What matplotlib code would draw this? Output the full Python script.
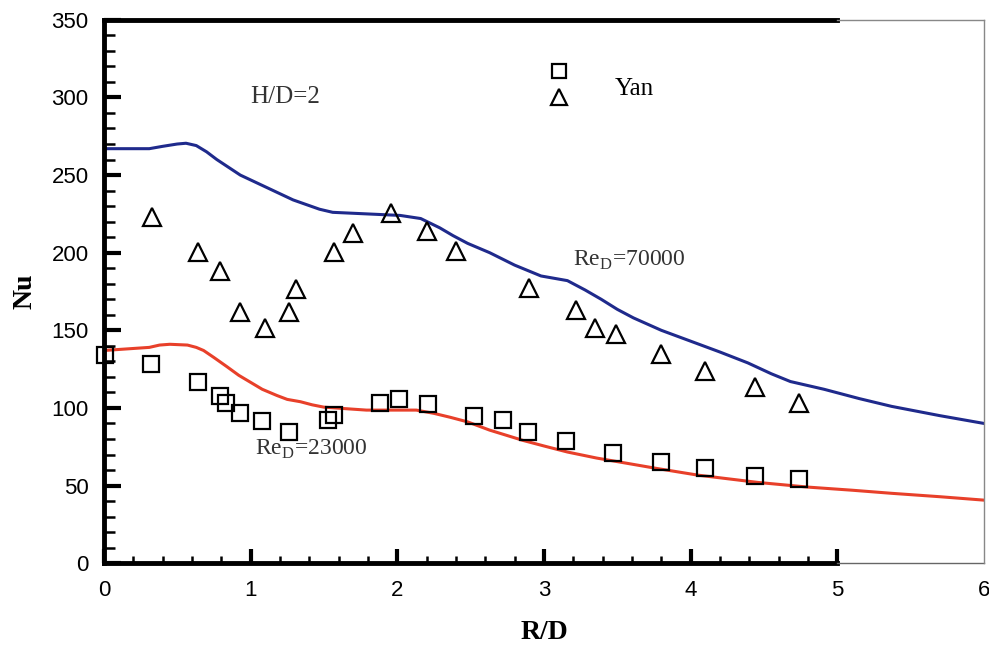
import numpy as np
import matplotlib.pyplot as plt
from matplotlib.legend_handler import HandlerBase
from matplotlib.lines import Line2D

# simulated curves
rd_70000 = [0.0, 0.31, 0.40, 0.50, 0.56, 0.63, 0.70, 0.77, 0.85, 0.93, 1.02, 1.11, 1.20, 1.29,
            1.38, 1.47, 1.56, 1.79, 2.02, 2.16, 2.29, 2.38, 2.48, 2.63, 2.80, 2.98, 3.16,
            3.28, 3.39, 3.50, 3.61, 3.80, 4.00, 4.20, 4.39, 4.55, 4.68, 4.91, 5.15, 5.37,
            5.70, 6.0]
nu_70000 = [267, 267, 268.5, 270, 270.5, 269, 265, 260, 255, 250, 246, 242, 238, 234,
            231, 228, 226, 225, 224, 222, 216, 211, 206, 200, 192, 185, 182,
            176, 170, 163.5, 158, 150, 143, 136, 129, 122, 117, 112, 106, 101,
            95, 90]

rd_23000 = [0.0, 0.31, 0.38, 0.45, 0.57, 0.63, 0.68, 0.75, 0.84, 0.92, 1.00, 1.08, 1.18,
            1.25, 1.34, 1.42, 1.50, 1.79, 2.13, 2.25, 2.36, 2.48, 2.63, 2.86, 3.00, 3.16,
            3.36, 3.77, 4.05, 4.46, 4.80, 5.10, 5.37, 5.70, 6.0]
nu_23000 = [137, 139, 140.5, 141, 140.5, 139, 137, 132.5, 126.5, 121, 116.5, 112, 108,
            105.5, 104, 102, 100.5, 98.6, 98.6, 96.5, 94, 91, 85.7, 79, 75.5, 71.6,
            67.7, 61, 56.7, 52, 49, 47, 45, 42.8, 40.6]

# Yan experiments
yan_rd_tri = [0.33, 0.64, 0.79, 0.93, 1.10, 1.26, 1.31, 1.57, 1.70, 1.96, 2.20, 2.40,
              2.90, 3.22, 3.35, 3.49, 3.80, 4.10, 4.44, 4.74]
yan_nu_tri = [223, 200.5, 188, 162, 151.5, 162, 176.5, 200.5, 212.5, 225.5, 214, 201,
              177, 163, 151.5, 147.5, 135, 124, 113.5, 103]

yan_rd_sq = [0.01, 0.32, 0.64, 0.79, 0.83, 0.93, 1.08, 1.26, 1.53, 1.57, 1.88, 2.01, 2.21,
             2.52, 2.72, 2.89, 3.15, 3.47, 3.80, 4.10, 4.44, 4.74]
yan_nu_sq = [134, 128, 116.5, 107.6, 103, 96.5, 91.6, 84.5, 92, 95.4, 103, 105.7, 102.5,
             95, 92, 84.5, 78.6, 70.7, 65, 61, 56, 54]

serif = ['Liberation Serif', 'DejaVu Serif']
plt.rcParams['font.family'] = ['Liberation Sans', 'DejaVu Sans']


class StackedHandler(HandlerBase):
    # square above triangle, one label centred between them
    def create_artists(self, legend, orig_handle, xd, yd, width, height, fontsize, trans):
        cx = xd + width / 2
        sq = Line2D([cx], [yd + height * 0.5], marker='s', ls='none', ms=10,
                    mfc='none', mec='k', mew=1.6, transform=trans)
        tr = Line2D([cx], [yd - height * 0.3], marker='^', ls='none', ms=12,
                    mfc='none', mec='k', mew=1.6, transform=trans)
        return [sq, tr]


fig = plt.figure(figsize=(9.89, 6.61), dpi=100)
ax = fig.add_axes([0.105, 0.148, 0.89, 0.822])

ax.plot(rd_70000, nu_70000, color='#1f2a8c', lw=2.2)
ax.plot(rd_23000, nu_23000, color='#e8402a', lw=2.2)
ax.plot(yan_rd_tri, yan_nu_tri, ls='none', marker='^', ms=13, mfc='none', mec='k', mew=1.6)
ax.plot(yan_rd_sq, yan_nu_sq, ls='none', marker='s', ms=11, mfc='none', mec='k', mew=1.6,
        clip_on=False)

ax.set_xlim(0, 6)
ax.set_ylim(0, 350)

# spines: heavy left/bottom/top up to 5, thin grey beyond
for s in ['top', 'right', 'bottom']:
    ax.spines[s].set_visible(False)
ax.spines['left'].set_linewidth(3.5)
ax.axhline(0, xmin=0, xmax=5 / 6, color='k', lw=3.5, clip_on=False)
ax.axhline(0, xmin=5 / 6, xmax=1, color='#666666', lw=1, clip_on=False)
ax.axhline(350, xmin=0, xmax=5 / 6, color='k', lw=3.5, clip_on=False)
ax.axhline(350, xmin=5 / 6, xmax=1, color='#888888', lw=1, clip_on=False)
ax.axvline(6, color='#888888', lw=1, clip_on=False)

ax.set_xticks(np.arange(0, 7, 1))
ax.set_xticks(np.arange(0.2, 5, 0.2), minor=True)
ax.set_yticks(np.arange(0, 351, 50))
ax.set_yticks(np.arange(10, 350, 10), minor=True)
ax.tick_params(axis='y', which='major', direction='in', length=12, width=3, pad=11,
               labelsize=16)
ax.tick_params(axis='y', which='minor', direction='in', length=8, width=1.8)
ax.tick_params(axis='x', which='major', direction='in', length=10, width=3, pad=12,
               labelsize=16)
ax.tick_params(axis='x', which='minor', direction='in', length=5, width=1.8)
ax.xaxis.get_major_ticks()[-1].tick1line.set_visible(False)

ax.set_xlabel('R/D', family=serif, fontsize=20, fontweight='bold', labelpad=14)
ax.set_ylabel('Nu', family=serif, fontsize=20, fontweight='bold', labelpad=10)

ax.text(1.0, 300, 'H/D=2', family=serif, fontsize=18, va='center', color='#333333')
ax.text(3.2, 195, r'Re$_\mathregular{D}$=70000', family=serif, fontsize=17, va='center',
        color='#333333')
ax.text(1.03, 73, r'Re$_\mathregular{D}$=23000', family=serif, fontsize=17, va='center',
        color='#333333')

leg = ax.legend([object()], ['Yan'], handler_map={object: StackedHandler()},
                loc='upper left', bbox_to_anchor=(0.475, 0.947), frameon=False,
                prop={'family': serif, 'size': 18}, handlelength=1.2, handleheight=1.6,
                handletextpad=1.6)

fig.savefig('out.png', dpi=100)
